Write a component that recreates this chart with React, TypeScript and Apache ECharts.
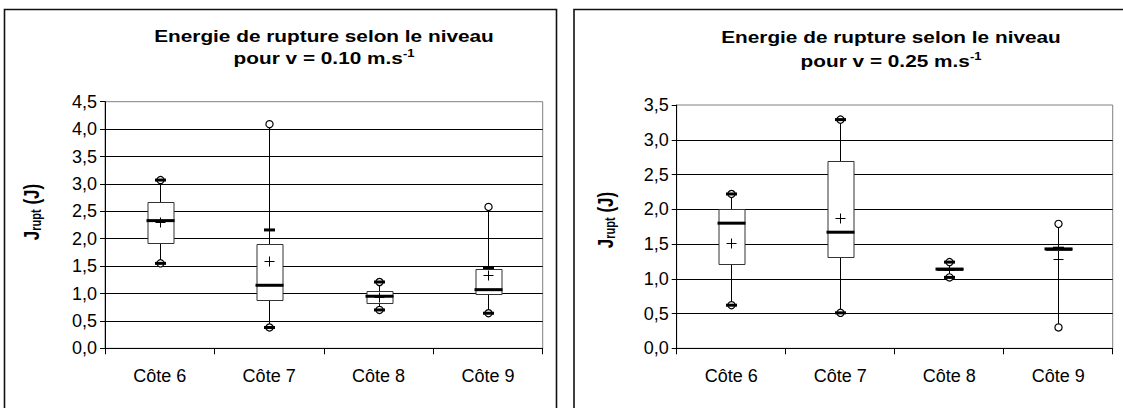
import React, { useEffect, useRef } from "react";
import * as echarts from "echarts";

const categories = ["Côte 6", "Côte 7", "Côte 8", "Côte 9"];

// v = 0.10 m/s
const minA = [1.55, 0.38, 0.7, 0.64];
const p10A = [1.55, 0.38, 0.7, 0.64];
const q1A = [1.93, 0.88, 0.82, 1.0];
const medA = [2.33, 1.15, 0.95, 1.07];
const q3A = [2.67, 1.9, 1.04, 1.45];
const p90A = [3.07, 2.16, 1.21, 1.47];
const maxA = [3.07, 4.09, 1.21, 2.58];
const meanA = [2.31, 1.59, 0.94, 1.34];

// v = 0.25 m/s
const minB = [0.62, 0.51, 1.02, 0.3];
const p10B = [0.62, 0.51, 1.02, null];
const q1B = [1.21, 1.32, 1.12, 1.42];
const medB = [1.8, 1.67, 1.14, 1.43];
const q3B = [2.0, 2.7, 1.15, 1.44];
const p90B = [2.22, 3.29, 1.24, 1.44];
const maxB = [2.22, 3.29, 1.24, 1.79];
const meanB = [1.51, 1.88, 1.13, 1.28];

const yMaxA = 4.5;
const yMaxB = 3.5;
const yStep = 0.5;

const FONT = "'Liberation Sans', Arial, Helvetica, sans-serif";
const STRETCH = 1.3;

function buildData(mn, p10, q1, med, q3, p90, mx, mean) {
  return categories.map((_, i) => [
    i, mn[i], p10[i] == null ? "-" : p10[i], q1[i], med[i], q3[i],
    p90[i] == null ? "-" : p90[i], mx[i], mean[i],
  ]);
}

const crisp = (v: number) => Math.round(v) + 0.5;

function renderItem(params: any, api: any) {
  const ci = api.value(0);
  const get = (d: number) => {
    const v = api.value(d);
    return v == null || isNaN(v) ? null : v;
  };
  const ycoord = (v: number) => api.coord([ci, v])[1];
  const cx = crisp(api.coord([ci, 0])[0]);
  const mn = get(1), p10 = get(2), q1 = get(3), med = get(4), q3 = get(5), p90 = get(6), mx = get(7), mean = get(8);
  const bw = 26;
  const children: any[] = [];
  children.push({
    type: "line",
    shape: { x1: cx, y1: ycoord(mn), x2: cx, y2: ycoord(mx) },
    style: { stroke: "#000", lineWidth: 1 },
  });
  const yt = crisp(ycoord(q3));
  const yb = crisp(ycoord(q1));
  children.push({
    type: "rect",
    shape: { x: Math.round(cx - bw / 2), y: yt, width: bw, height: Math.max(0, yb - yt) },
    style: { fill: "#fff", stroke: "#333", lineWidth: 1 },
  });
  const ym = ycoord(med);
  children.push({
    type: "line",
    shape: { x1: cx - bw / 2 - 1, y1: ym, x2: cx + bw / 2 + 1, y2: ym },
    style: { stroke: "#000", lineWidth: 3 },
  });
  const ymean = crisp(ycoord(mean));
  children.push({
    type: "line",
    shape: { x1: cx - 5, y1: ymean, x2: cx + 5, y2: ymean },
    style: { stroke: "#000", lineWidth: 1 },
  });
  children.push({
    type: "line",
    shape: { x1: cx, y1: ymean - 5, x2: cx, y2: ymean + 5 },
    style: { stroke: "#000", lineWidth: 1 },
  });
  [mn, mx].forEach((v) => {
    if (v == null) return;
    children.push({
      type: "circle",
      shape: { cx: cx, cy: ycoord(v), r: 3.6 },
      style: { fill: "#fff", stroke: "#000", lineWidth: 1.2 },
    });
  });
  [p10, p90].forEach((v) => {
    if (v == null) return;
    const y = ycoord(v);
    children.push({
      type: "line",
      shape: { x1: cx - 5.5, y1: y, x2: cx + 5.5, y2: y },
      style: { stroke: "#000", lineWidth: 3 },
    });
  });
  return { type: "group", children };
}

function axisPair(gridIndex: number, max: number) {
  const xAxis = {
    type: "category",
    gridIndex,
    data: categories,
    boundaryGap: true,
    axisLine: { show: true, lineStyle: { color: "#000", width: 1 } },
    axisTick: { show: true, interval: 0, length: 6, inside: false, lineStyle: { color: "#000" } },
    axisLabel: { color: "#000", fontFamily: FONT, fontSize: 18, margin: 19 },
    splitLine: { show: false },
  };
  const yAxis = {
    type: "value",
    gridIndex,
    min: 0,
    max,
    interval: yStep,
    axisLine: { show: true, lineStyle: { color: "#000", width: 1 } },
    axisTick: { show: true, length: 5, lineStyle: { color: "#000" } },
    axisLabel: {
      color: "#000",
      fontFamily: FONT,
      fontSize: 18,
      margin: 8,
      formatter: (v: number) => v.toFixed(1).replace(".", ","),
    },
    splitLine: { show: true, showMaxLine: false, lineStyle: { color: "#000", width: 1 } },
  };
  return { xAxis, yAxis };
}

function titleGraphic(cx: number, y1: number, y2: number, speed: string) {
  return [
    {
      type: "text",
      x: cx,
      y: y1,
      scaleX: STRETCH,
      style: {
        text: "Energie de rupture selon le niveau",
        font: `bold 16px ${FONT}`,
        fill: "#000",
        textAlign: "center",
        textVerticalAlign: "middle",
      },
    },
    {
      type: "text",
      x: cx,
      y: y2,
      scaleX: STRETCH,
      style: {
        text: `{b|pour v = ${speed} m.s}{sup|-1}`,
        fill: "#000",
        textAlign: "center",
        textVerticalAlign: "middle",
        rich: {
          b: { font: `bold 16px ${FONT}`, fill: "#000" },
          sup: { font: `bold 10px ${FONT}`, fill: "#000", padding: [0, 0, 9, 0] },
        },
      },
    },
  ];
}

function yNameGraphic(x: number, y: number) {
  return {
    type: "text",
    x,
    y,
    rotation: Math.PI / 2,
    scaleY: STRETCH,
    style: {
      text: "{b|J}{s|rupt}{b| (J)}",
      textAlign: "center",
      textVerticalAlign: "middle",
      fill: "#000",
      rich: {
        b: { font: `bold 17px ${FONT}`, fill: "#000" },
        s: { font: `bold 11px ${FONT}`, fill: "#000", padding: [8, 0, 0, 0] },
      },
    },
  };
}

export default function App() {
  const ref = useRef<HTMLDivElement>(null);
  useEffect(() => {
    if (!ref.current) return;
    const chart = echarts.init(ref.current, null, { renderer: "svg" });
    const a = axisPair(0, yMaxA);
    const b = axisPair(1, yMaxB);
    chart.setOption({
      animation: false,
      backgroundColor: "#fff",
      grid: [
        { left: 105, top: 101.7, width: 437.7, height: 246.6, show: true, borderColor: "#808080", borderWidth: 1, backgroundColor: "transparent" },
        { left: 676.7, top: 105, width: 436, height: 243.3, show: true, borderColor: "#808080", borderWidth: 1, backgroundColor: "transparent" },
      ],
      xAxis: [a.xAxis, b.xAxis],
      yAxis: [a.yAxis, b.yAxis],
      series: [
        {
          type: "custom",
          xAxisIndex: 0,
          yAxisIndex: 0,
          renderItem,
          encode: { x: 0, y: [1, 2, 3, 4, 5, 6, 7, 8] },
          data: buildData(minA, p10A, q1A, medA, q3A, p90A, maxA, meanA),
          z: 10,
        },
        {
          type: "custom",
          xAxisIndex: 1,
          yAxisIndex: 1,
          renderItem,
          encode: { x: 0, y: [1, 2, 3, 4, 5, 6, 7, 8] },
          data: buildData(minB, p10B, q1B, medB, q3B, p90B, maxB, meanB),
          z: 10,
        },
      ],
      graphic: [
        {
          type: "rect",
          shape: { x: 4.5, y: 9.5, width: 552, height: 420 },
          style: { fill: "none", stroke: "#111", lineWidth: 1.6 },
          silent: true,
        },
        {
          type: "rect",
          shape: { x: 574, y: 9.5, width: 560, height: 420 },
          style: { fill: "none", stroke: "#111", lineWidth: 1.6 },
          silent: true,
        },
        ...titleGraphic(324, 36, 58, "0.10"),
        ...titleGraphic(891, 37, 61, "0.25"),
        yNameGraphic(31, 212),
        yNameGraphic(605, 220),
      ],
    });
    return () => chart.dispose();
  }, []);
  return (
    <div
      ref={ref}
      style={{ position: "absolute", left: 0, top: 0, width: 1123, height: 408, background: "#fff" }}
    />
  );
}
